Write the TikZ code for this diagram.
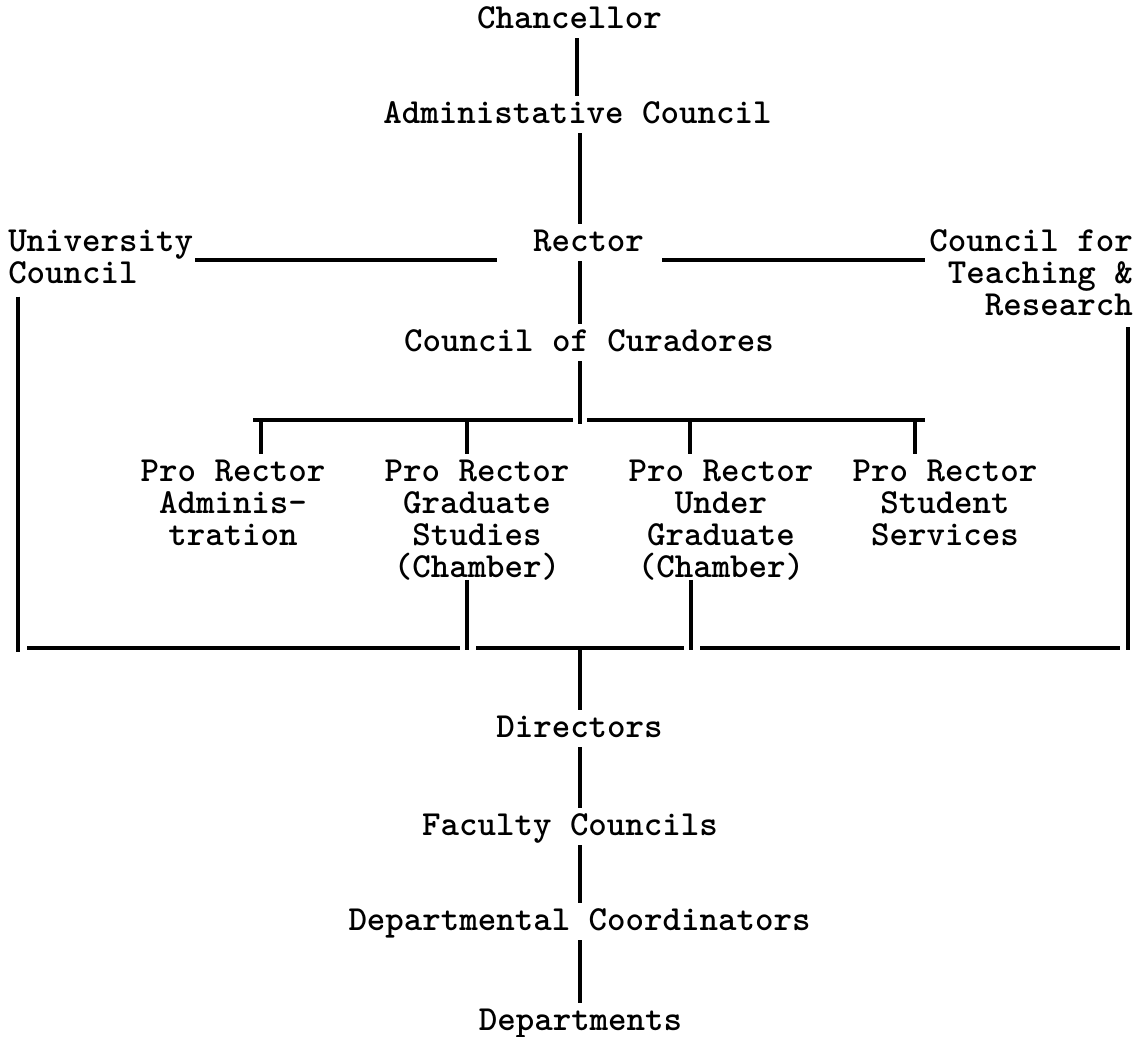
\documentclass[tikz,border=0pt]{standalone}
\usepackage{fontspec}
\begin{document}
\tikzset{
  txt/.style={font=\ttfamily\bfseries\fontsize{26.4}{24}\selectfont, inner xsep=0pt, inner ysep=3.75pt},
  lbl/.style={txt, text height=16.5pt, text depth=3.75pt, anchor=base},
  mlbl/.style={txt, align=center, anchor=base},
  conn/.style={line width=2.3pt}
}
\begin{tikzpicture}[x=0.75pt,y=-0.75pt]
\useasboundingbox (0,0) rectangle (1139,1036);
% labels (multi-line nodes are placed at the baseline of their last line)
\node[lbl] (chan) at (569.5,28) {Chancellor};
\node[lbl] (adm) at (577.5,123) {Administative Council};
\node[lbl] (rec) at (588.5,251) {Rector};
\node[lbl] (cur) at (589,351) {Council of Curadores};
\node[mlbl, anchor=base west, align=left] (uc) at (8,283) {University\\Council};
\node[mlbl, anchor=base east, align=right] (ctr) at (1133,315) {Council for\\Teaching \&\\Research};
\node[mlbl] (pr1) at (233,545) {Pro Rector\\Adminis-\\tration};
\node[mlbl] (pr2) at (477,577) {Pro Rector\\Graduate\\Studies\\(Chamber)};
\node[mlbl] (pr3) at (721,577) {Pro Rector\\Under\\Graduate\\(Chamber)};
\node[mlbl] (pr4) at (945,545) {Pro Rector\\Student\\Services};
\node[lbl] (dir) at (579.5,737) {Directors};
\node[lbl] (fac) at (570,835) {Faculty Councils};
\node[lbl] (dco) at (579.5,930) {Departmental Coordinators};
\node[lbl] (dpt) at (580.5,1030) {Departments};
% guide coordinates
\coordinate (sp0) at (577,0);
\coordinate (sp) at (580,0);
\coordinate (hl) at (0,260);
\coordinate (tj) at (580,424);
\coordinate (tbA) at (253,420);
\coordinate (tbB) at (573,420);
\coordinate (tbC) at (587,420);
\coordinate (tbD) at (925,420);
\coordinate (d1) at (261,420);
\coordinate (d2) at (467,420);
\coordinate (d3) at (690,420);
\coordinate (d4) at (915,420);
\coordinate (bbA) at (27,648);
\coordinate (bbB) at (460,648);
\coordinate (bbC) at (476,648);
\coordinate (bbD) at (684,648);
\coordinate (bbE) at (700,648);
\coordinate (bbF) at (1120,648);
\coordinate (lv) at (18,652);
\coordinate (rv) at (1128,650);
\coordinate (b2) at (467,650);
\coordinate (b3) at (691,650);
\coordinate (bj) at (580,648);
% spine
\draw[conn] (sp0 |- chan.south) -- (sp0 |- adm.north);
\draw[conn] (sp |- adm.south) -- (sp |- rec.north);
\draw[conn] (sp |- rec.south) -- (sp |- cur.north);
\draw[conn] (sp |- cur.south) -- (tj);
% side links from Rector
\draw[conn] ([xshift=1.5pt]uc.east |- hl) -- ([xshift=-27pt]rec.west |- hl);
\draw[conn] ([xshift=13.5pt]rec.east |- hl) -- ([xshift=-3pt]ctr.west |- hl);
% top bar and drops
\draw[conn] (tbA) -- (tbB);
\draw[conn] (tbC) -- (tbD);
\draw[conn] (d1) -- (d1 |- pr1.north);
\draw[conn] (d2) -- (d2 |- pr2.north);
\draw[conn] (d3) -- (d3 |- pr3.north);
\draw[conn] (d4) -- (d4 |- pr4.north);
% bottom bar
\draw[conn] (bbA) -- (bbB);
\draw[conn] (bbC) -- (bbD);
\draw[conn] (bbE) -- (bbF);
\draw[conn] ([yshift=-6pt]lv |- uc.south) -- (lv);
\draw[conn] ([yshift=-5pt]rv |- ctr.south) -- (rv);
\draw[conn] ([yshift=4pt]b2 |- pr2.south) -- (b2);
\draw[conn] ([yshift=4pt]b3 |- pr3.south) -- (b3);
% lower spine
\draw[conn] (bj) -- (sp |- dir.north);
\draw[conn] (sp |- dir.south) -- (sp |- fac.north);
\draw[conn] (sp |- fac.south) -- (sp |- dco.north);
\draw[conn] (sp |- dco.south) -- (sp |- dpt.north);
\end{tikzpicture}
\end{document}
